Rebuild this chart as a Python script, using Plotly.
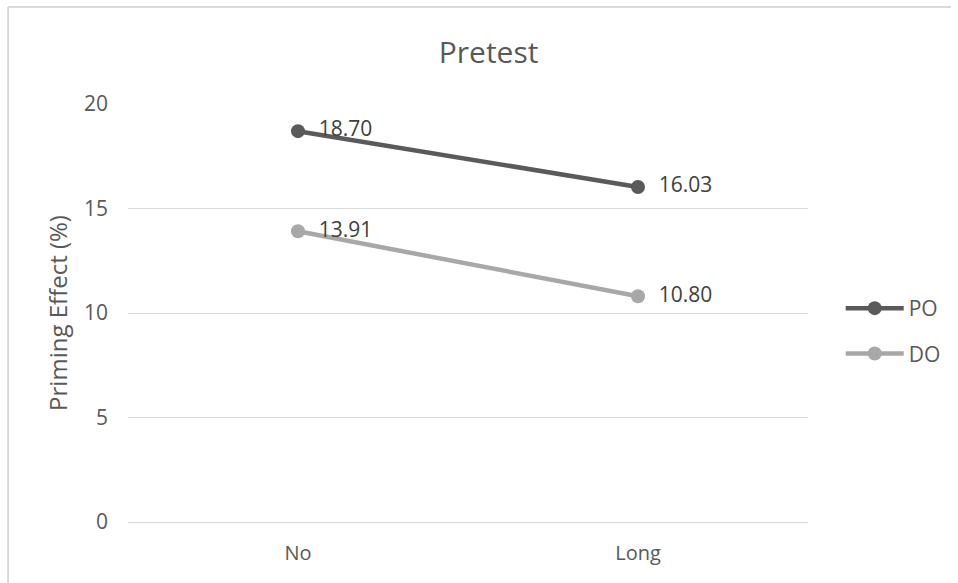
import plotly.graph_objects as go

categories = ["No", "Long"]
po_values = [18.70, 16.03]
do_values = [13.91, 10.80]
series_names = ["PO", "DO"]
y_ticks = [0, 5, 10, 15, 20]

FONT = "Open Sans"
TXT = "#595959"
W, H = 958, 583
L, R, T, B = 128, 144, 104, 61
pw, ph = W - L - R, H - T - B
NB = "\u00a0"

def px_x(x):
    return (x - L) / pw

def px_y(y):
    return (H - B - y) / ph

fig = go.Figure()
for name, vals, col, grp in [(series_names[0], po_values, "#5a5a5a", "a"),
                            (series_names[1], do_values, "#a8a8a8", "b")]:
    fig.add_trace(go.Scatter(
        x=categories, y=vals, name=name, legendgroup=grp,
        mode="lines+markers+text",
        line=dict(color=col, width=4.5),
        marker=dict(color=col, size=14),
        text=[NB * 2 + f"{v:.2f}" for v in vals],
        textposition="middle right",
        textfont=dict(family=FONT, size=21, color="#404040"),
        cliponaxis=False,
    ))

border = dict(color="#d9d9d9", width=2)
fig.update_layout(
    width=W, height=H, autosize=False,
    margin=dict(l=L, r=R, t=T, b=B),
    paper_bgcolor="white", plot_bgcolor="white",
    font=dict(family=FONT, color=TXT),
    title=dict(text="Pretest", x=0.51, xanchor="center", y=1 - 52 / H, yanchor="middle",
               font=dict(family=FONT, size=30, color=TXT)),
    xaxis=dict(range=[-0.5, 1.5], showgrid=False, showline=False, zeroline=False,
               tickfont=dict(family=FONT, size=20, color=TXT), ticks="",
               ticklabelstandoff=17),
    yaxis=dict(range=[0, 20], tickvals=y_ticks, showgrid=True, gridcolor="#d9d9d9",
               gridwidth=1, zeroline=True, zerolinecolor="#d9d9d9", zerolinewidth=1,
               showline=False, ticks="",
               tickfont=dict(family=FONT, size=21, color=TXT), ticklabelstandoff=19,
               title=dict(text="Priming Effect (%)", font=dict(family=FONT, size=24, color=TXT),
                          standoff=9)),
    legend=dict(x=px_x(847), xanchor="left", y=px_y(331), yanchor="middle",
                font=dict(family=FONT, size=21, color=TXT), itemwidth=58,
                tracegroupgap=15, bgcolor="rgba(0,0,0,0)"),
    showlegend=True,
    shapes=[
        dict(type="line", xref="paper", yref="paper",
             x0=px_x(7), x1=px_x(7), y0=px_y(583), y1=px_y(7), line=border, layer="below"),
        dict(type="line", xref="paper", yref="paper",
             x0=px_x(7), x1=px_x(958), y0=px_y(7), y1=px_y(7), line=border, layer="below"),
    ],
)

post = (
    "document.documentElement.style.margin='0';"
    "document.body.style.margin='0';"
    "document.body.style.overflow='hidden';"
    "document.documentElement.style.overflow='hidden';"
    "var gd=document.getElementById('{plot_id}');"
    "gd.style.position='fixed';gd.style.left='0px';gd.style.top='0px';"
)

fig.write_html("out.html",
               config={"displayModeBar": False, "responsive": False},
               post_script=post)
